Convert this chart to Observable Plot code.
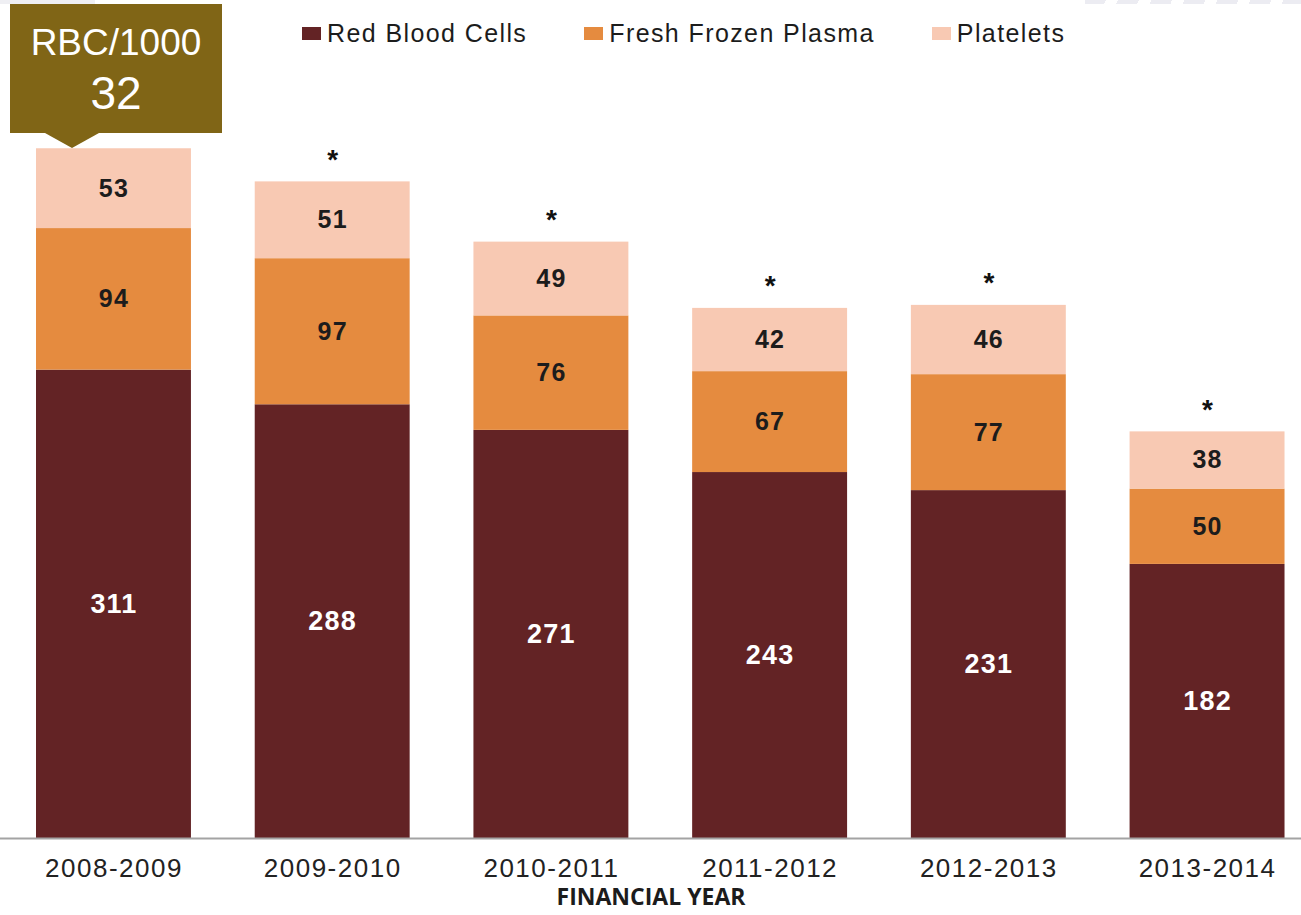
<!DOCTYPE html>
<html>
<head>
<meta charset="utf-8">
<script src="https://cdn.jsdelivr.net/npm/d3@7"></script>
<script src="https://cdn.jsdelivr.net/npm/@observablehq/plot@0.6"></script>
<style>
  html, body { margin: 0; padding: 0; background: #fff; }
  #wrap { position: relative; width: 1301px; height: 915px; overflow: hidden; font-family: "Liberation Sans", Arial, sans-serif; }
  #wrap svg { position: absolute; left: 0; top: 0; }
  #wrap svg [aria-label="x-axis tick label"] text { letter-spacing: 1.5px; }
  #wrap svg g.seglabel text { letter-spacing: 1.2px; }
  .deco-left { position: absolute; left: 0; top: 0; width: 95px; height: 4px; background: #efeff3; }
  .deco-right { position: absolute; left: 1085px; top: 0; width: 216px; height: 4px;
    background: repeating-linear-gradient(115deg, #ececf2 0 19px, transparent 19px 30px); }
  #legend { position: absolute; left: 302px; top: 19px; display: flex; gap: 57px; align-items: center; z-index: 2; }
  .li { display: flex; align-items: center; gap: 6px; font-size: 25px; letter-spacing: 1.4px; color: #1c1c1c; line-height: 28px; }
  .sw { width: 19px; height: 13px; display: inline-block; }
  #callout { position: absolute; left: 10px; top: 4px; width: 212px; height: 129px; background: #806516; color: #fff; text-align: center; z-index: 2; }
  #callout .t1 { position: absolute; left: 0; right: 0; top: 18px; font-size: 37px; line-height: 42px; }
  #callout .t2 { position: absolute; left: 0; right: 0; top: 63px; font-size: 46px; line-height: 52px; }
  #callout .arrow { position: absolute; left: 35px; top: 129px; width: 0; height: 0;
    border-left: 27px solid transparent; border-right: 27px solid transparent; border-top: 15px solid #806516; }
</style>
</head>
<body>
<div id="wrap">
  <div class="deco-left"></div>
  <div class="deco-right"></div>
  <div id="legend"></div>
  <div id="callout"><div class="t1"></div><div class="t2"></div><div class="arrow"></div></div>
</div>
<script>
// ---- data ----
const years = ["2008-2009", "2009-2010", "2010-2011", "2011-2012", "2012-2013", "2013-2014"];
const types = ["Red Blood Cells", "Fresh Frozen Plasma", "Platelets"];
const colors = ["#632325", "#e58b3f", "#f8c9b3"];
const redBloodCells = [311, 288, 271, 243, 231, 182];
const freshFrozenPlasma = [94, 97, 76, 67, 77, 50];
const platelets = [53, 51, 49, 42, 46, 38];
const asterisk = [false, true, true, true, true, true];
const axisTitle = "FINANCIAL YEAR";
const calloutLabel = "RBC/1000";
const calloutValue = "32";

// ---- table ----
const series = [redBloodCells, freshFrozenPlasma, platelets];
const data = [];
years.forEach((year, i) => {
  types.forEach((type, k) => data.push({year, type, value: series[k][i]}));
});
const totals = years.map((year, i) => ({year, total: series.reduce((s, arr) => s + arr[i], 0), star: asterisk[i]}));

// ---- legend & callout ----
const legend = document.getElementById("legend");
types.forEach((t, k) => {
  const d = document.createElement("div");
  d.className = "li";
  d.innerHTML = `<span class="sw" style="background:${colors[k]}"></span><span>${t}</span>`;
  legend.appendChild(d);
});
document.querySelector("#callout .t1").textContent = calloutLabel;
document.querySelector("#callout .t2").textContent = calloutValue;

// ---- chart ----
const chart = Plot.plot({
  width: 1301,
  height: 915,
  marginTop: 85,
  marginBottom: 77,
  marginLeft: 0,
  marginRight: 0,
  style: {fontFamily: "'Liberation Sans', Arial, sans-serif", background: "transparent", overflow: "visible"},
  x: {domain: years, paddingInner: 0.2916, paddingOuter: 0.12, align: 0.686, round: false, axis: null},
  y: {domain: [0, 500], axis: null},
  color: {domain: types, range: colors},
  marks: [
    Plot.barY(data, Plot.stackY({x: "year", y: "value", fill: "type", order: types})),
    Plot.ruleY([0], {stroke: "#a3a3a3", strokeWidth: 2}),
    Plot.axisX({tickSize: 0, tickPadding: 20, fontSize: 26, fill: "#222", label: null}),
    Plot.text([axisTitle], {frameAnchor: "bottom", dy: 66, fontSize: 23, fontWeight: "bold", fill: "#1c1c1c", fontFamily: "'Open Sans', 'Liberation Sans', sans-serif"}),
    Plot.text(data, Plot.stackY({x: "year", y: "value", z: "type", order: types, text: d => d.type === "Red Blood Cells" ? String(d.value) : null, fill: "white", fontSize: 27, fontWeight: "bold", className: "seglabel"})),
    Plot.text(data, Plot.stackY({x: "year", y: "value", z: "type", order: types, text: d => d.type !== "Red Blood Cells" ? String(d.value) : null, fill: "#1c1c1c", fontSize: 25, fontWeight: "bold", className: "seglabel"})),
    Plot.text(totals.filter(d => d.star), {x: "year", y: "total", text: () => "*", dy: -22, fontSize: 28, fontWeight: "bold", fill: "#111"})
  ]
});
document.getElementById("wrap").appendChild(chart);
</script>
</body>
</html>
